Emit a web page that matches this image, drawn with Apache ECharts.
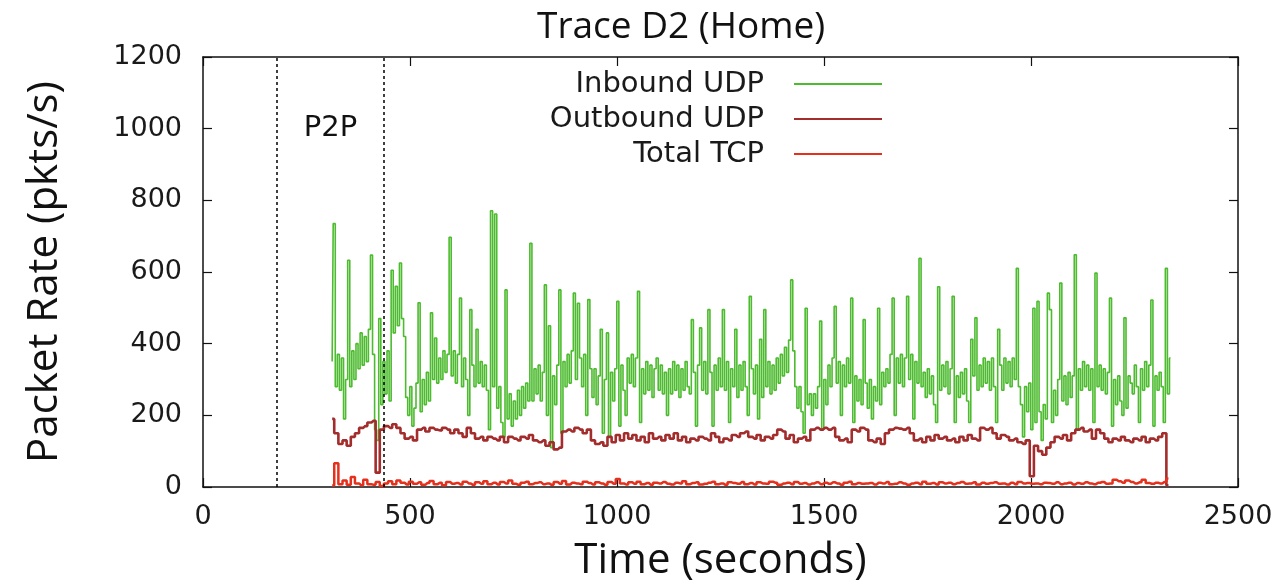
<!DOCTYPE html>
<html><head><meta charset="utf-8">
<script src="https://cdn.jsdelivr.net/npm/echarts@6/dist/echarts.min.js"></script>
<style>html,body{margin:0;padding:0;background:#fff}#c{width:1283px;height:587px}</style>
</head><body><div id="c"></div>
<script>
// ---- data ----
const xTicks = [0, 500, 1000, 1500, 2000, 2500];
const yTicks = [0, 200, 400, 600, 800, 1000, 1200];
const p2pBounds = [178, 437];          // dotted lines (seconds)
const p2pLabelAt = [308, 1000];
// Inbound UDP, one value every 5 s starting at t = 312
const inboundStart = 312, inboundStep = 5;
const inboundUDP = [
 350,735,280,370,270,360,190,300,633,280,380,300,400,330,430,340,420,350,440,647,
 370,160,130,470,230,350,260,380,240,605,430,560,450,625,470,420,250,200,280,170,
 220,290,514,210,300,230,320,240,486,300,416,290,360,300,380,320,370,697,310,380,
 290,370,527,280,360,300,200,495,340,280,440,290,350,280,340,270,160,771,280,762,
 220,280,180,140,550,190,260,170,240,190,270,200,280,220,290,240,680,240,330,260,
 340,240,320,564,200,450,110,310,230,340,550,150,350,280,370,290,380,541,300,513,
 360,280,370,200,523,330,250,330,230,310,440,150,300,430,140,320,240,330,518,170,
 340,270,200,360,290,370,280,360,546,180,330,260,350,270,340,250,330,360,270,340,
 260,320,200,330,260,350,270,340,250,330,270,350,280,260,467,320,170,340,444,270,
 350,260,495,320,170,340,270,360,280,495,270,350,180,330,280,440,250,340,270,350,
 280,200,532,330,260,340,190,412,250,495,280,350,260,340,270,360,290,370,310,390,
 320,410,578,380,280,220,280,210,150,499,230,260,200,260,220,280,463,160,300,230,
 340,280,360,504,290,350,200,340,280,360,290,527,180,310,240,300,230,467,290,220,
 300,190,280,240,499,230,320,280,330,290,370,527,200,360,290,370,280,360,532,300,
 370,190,350,290,638,280,320,250,330,260,310,230,180,559,270,340,280,350,260,330,
 532,180,310,250,320,260,330,240,180,412,310,472,270,340,280,360,290,350,270,360,
 280,180,440,340,270,360,290,350,280,360,300,610,280,230,140,280,210,290,160,499,
 180,518,210,130,230,190,541,495,180,270,200,300,569,240,310,230,320,250,310,648,
 160,330,270,350,280,340,270,330,180,597,280,340,270,330,260,320,527,170,300,230,
 310,240,200,472,220,310,290,260,340,280,180,330,270,350,280,340,522,170,310,270,
 320,280,180,610,260,360
];
// Outbound UDP and Total TCP, one value every 10 s starting at t = 312
const otherStart = 312, otherStep = 10;
const outboundUDP = [
 190,150,120,130,115,140,150,165,170,180,
 185,40,160,170,165,175,165,150,135,140,
 130,160,165,155,165,160,158,165,160,150,
 160,150,140,165,150,135,140,130,140,135,
 130,140,125,140,135,130,140,135,145,130,
 125,130,115,125,105,110,155,160,155,165,
 160,150,160,130,120,125,115,140,125,145,
 130,150,135,145,130,140,125,150,135,140,
 130,145,135,150,130,140,125,135,130,140,
 135,130,150,140,125,135,130,145,140,150,
 155,140,135,145,130,140,135,145,160,155,
 135,145,125,135,140,130,160,165,160,165,
 160,165,140,130,135,125,160,155,165,160,
 130,125,135,120,150,160,165,163,160,165,
 150,130,135,125,140,130,145,135,140,130,
 135,125,140,130,145,135,130,165,160,165,
 150,135,145,140,130,135,125,120,130,30,
 115,100,90,110,125,140,135,145,130,150,
 160,165,155,160,135,160,150,135,125,135,
 130,140,130,125,135,130,140,125,135,130,
 140,150,5
];
const totalTCP = [
 4,66,8,18,6,28,10,5,20,8,
 6,14,3,10,16,8,18,12,7,15,
 9,13,6,11,17,8,12,5,14,9,
 11,7,15,10,6,13,9,16,8,12,
 7,14,10,18,9,6,12,15,8,11,
 13,8,10,6,14,9,17,7,12,10,
 8,15,11,7,13,10,6,14,9,22,
 10,7,13,9,15,8,11,6,12,10,
 14,9,7,12,10,16,8,11,13,7,
 9,12,15,8,10,6,13,11,9,14,
 8,11,7,13,10,9,15,12,6,10,
 12,8,14,9,11,7,10,13,8,12,
 9,13,10,6,12,15,8,11,9,10,
 11,7,12,10,14,8,9,13,10,6,
 10,12,8,15,9,11,7,13,10,12,
 8,11,14,9,10,13,7,12,9,11,
 13,9,10,7,12,8,14,10,11,9,
 10,8,12,11,9,13,8,10,12,7,
 11,9,13,10,8,12,14,9,10,20,
 16,12,18,14,10,13,20,11,9,12,
 10,14,24
];

// ---- build ----
const pairs = (arr, t0, dt) => arr.map((v, i) => [t0 + i * dt, v]);
const chart = echarts.init(document.getElementById('c'), null, {renderer: 'canvas'});
const tickFont = {fontFamily: 'DejaVu Sans', fontSize: 27, color: '#1a1a1a', formatter: v => String(v)};
const axisBase = {
  type: 'value', splitLine: {show: false},
  axisLine: {show: true, onZero: false, lineStyle: {color: '#111', width: 1.5}},
  axisTick: {show: true, inside: true, length: 9, lineStyle: {color: '#111', width: 1.2}}
};
chart.setOption({
  animation: false,
  backgroundColor: '#fff',
  title: {
    text: 'Trace D2 (Home)', left: 532, top: 4,
    textStyle: {fontFamily: 'Open Sans', fontSize: 37, fontWeight: 'normal', color: '#111'}
  },
  legend: {
    data: ['Inbound UDP', 'Outbound UDP', 'Total TCP'],
    orient: 'vertical', right: 396, top: 64, align: 'right',
    icon: 'rect', itemWidth: 88, itemHeight: 2, itemGap: 5,
    textStyle: {fontFamily: 'DejaVu Sans', fontSize: 29, color: '#1a1a1a', lineHeight: 30, padding: [0, 25, 0, 0]}
  },
  grid: {left: 203, right: 45, top: 57, bottom: 97},
  xAxis: [
    Object.assign({}, axisBase, {
      min: xTicks[0], max: xTicks[xTicks.length - 1], interval: 500, position: 'bottom',
      name: 'Time (seconds)', nameLocation: 'middle', nameGap: 53,
      nameTextStyle: {fontFamily: 'Open Sans', fontSize: 42, color: '#111'},
      axisLabel: Object.assign({margin: 16}, tickFont)
    }),
    Object.assign({}, axisBase, {
      min: xTicks[0], max: xTicks[xTicks.length - 1], interval: 500, position: 'top',
      axisLabel: {show: false}
    })
  ],
  yAxis: [
    Object.assign({}, axisBase, {
      min: yTicks[0], max: yTicks[yTicks.length - 1], interval: 200, position: 'left',
      name: 'Packet Rate (pkts/s)', nameLocation: 'middle', nameGap: 137,
      nameTextStyle: {fontFamily: 'Open Sans', fontSize: 42, color: '#111'},
      axisLabel: Object.assign({margin: 21}, tickFont)
    }),
    Object.assign({}, axisBase, {
      min: yTicks[0], max: yTicks[yTicks.length - 1], interval: 200, position: 'right',
      axisLabel: {show: false}
    })
  ],
  series: [
    {
      name: 'Inbound UDP', type: 'line', step: 'middle', showSymbol: false, symbol: 'none',
      data: pairs(inboundUDP, inboundStart, inboundStep),
      color: '#4cbb2e', lineStyle: {width: 1.6, color: '#4cbb2e'},
      markLine: {
        silent: true, symbol: ['none', 'none'], label: {show: false},
        lineStyle: {color: '#000', type: [3, 3], width: 1.5},
        data: p2pBounds.map(t => ({xAxis: t}))
      }
    },
    {
      name: 'Outbound UDP', type: 'line', step: 'middle', showSymbol: false, symbol: 'none',
      data: pairs(outboundUDP, otherStart, otherStep),
      color: '#a32c2c', lineStyle: {width: 2.6, color: '#a32c2c'}
    },
    {
      name: 'Total TCP', type: 'line', step: 'middle', showSymbol: false, symbol: 'none',
      data: pairs(totalTCP, otherStart, otherStep),
      color: '#e4301c', lineStyle: {width: 2.5, color: '#e4301c'}
    },
    {
      name: 'P2P', type: 'scatter', symbolSize: 0, silent: true,
      data: [p2pLabelAt],
      label: {show: true, position: 'inside', formatter: 'P2P',
        fontFamily: 'DejaVu Sans', fontSize: 29, color: '#111', opacity: 1}
    }
  ]
});
</script></body></html>
